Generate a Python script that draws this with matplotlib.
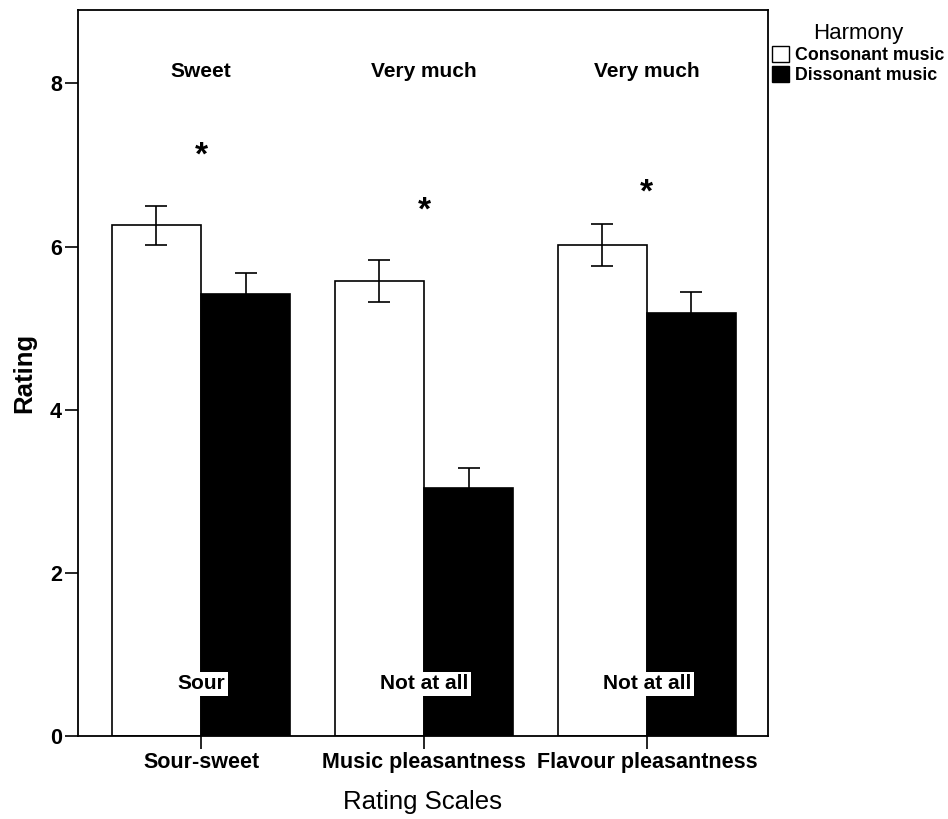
import numpy as np
import matplotlib
matplotlib.use("Agg")
import matplotlib.pyplot as plt
from matplotlib.patches import Patch

plt.rcParams['font.family'] = ['Liberation Sans', 'DejaVu Sans']

scales = ['Sour-sweet', 'Music pleasantness', 'Flavour pleasantness']
consonant = [6.26, 5.58, 6.02]
consonant_err = [0.24, 0.26, 0.26]
dissonant = [5.42, 3.04, 5.19]
dissonant_err = [0.25, 0.25, 0.25]
top_labels = ['Sweet', 'Very much', 'Very much']
bottom_labels = ['Sour', 'Not at all', 'Not at all']
star_y = [7.11, 6.44, 6.66]

x = np.arange(len(scales))
w = 0.4

fig = plt.figure(figsize=(9.48, 8.19), dpi=100)
ax = fig.add_axes([0.0823, 0.1013, 0.7277, 0.8865])

ax.bar(x - w / 2, consonant, w, color='white', edgecolor='black', linewidth=1.2,
       yerr=consonant_err, capsize=8, error_kw=dict(elinewidth=1.2, capthick=1.2))
ax.bar(x + w / 2, dissonant, w, color='black', edgecolor='black', linewidth=1.2,
       yerr=dissonant_err, capsize=8, error_kw=dict(elinewidth=1.2, capthick=1.2, ecolor='black'))

for i in range(len(scales)):
    ax.text(x[i], 8.15, top_labels[i], ha='center', va='center',
            fontsize=15, fontweight='bold')
    ax.text(x[i], 0.64, bottom_labels[i], ha='center', va='center',
            fontsize=15, fontweight='bold',
            bbox=dict(facecolor='white', edgecolor='none', pad=2))
    ax.text(x[i], star_y[i], '*', ha='center', va='center',
            fontsize=24, fontweight='bold')

ax.set_xlim(-0.552, 2.543)
ax.set_ylim(0, 8.9)
ax.set_xticks(x)
ax.set_xticklabels(scales, fontsize=15.5, fontweight='bold')
ax.set_yticks([0, 2, 4, 6, 8])
ax.set_yticklabels(['0', '2', '4', '6', '8'], fontsize=15.5, fontweight='bold')
ax.tick_params(direction='out', length=9.5, width=1.2, pad=2)
for s in ax.spines.values():
    s.set_linewidth(1.3)

ax.set_ylabel('Rating', fontsize=18.5, fontweight='bold', labelpad=10)
ax.set_xlabel('Rating Scales', fontsize=18.5, labelpad=12)

handles = [Patch(facecolor='white', edgecolor='black', label='Consonant music'),
           Patch(facecolor='black', edgecolor='black', label='Dissonant music')]
leg = fig.legend(handles=handles, title='Harmony', loc='upper left',
                 bbox_to_anchor=(0.814, 0.972), frameon=False,
                 prop=dict(size=12.8, weight='bold'), title_fontsize=16,
                 handlelength=1.0, handleheight=1.0, handletextpad=0.3,
                 labelspacing=0.12, borderaxespad=0, borderpad=0)

fig.savefig('out.png', dpi=100)
